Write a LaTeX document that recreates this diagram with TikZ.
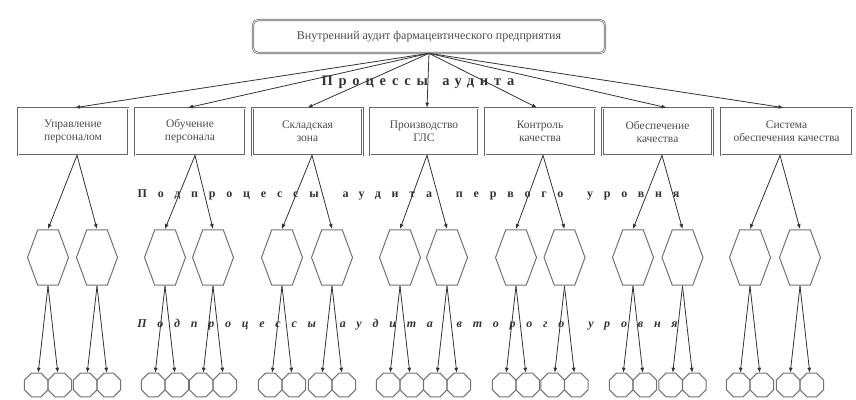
\documentclass[tikz,border=0pt]{standalone}
\usepackage{fontspec}
\setmainfont{Liberation Serif}
\usetikzlibrary{arrows.meta,shapes.geometric}
\newcommand{\wgap}{\hspace{10pt}}
\begin{document}
\begin{tikzpicture}[x=1pt,y=-1pt,
 arr/.style={draw=black!80, line width=0.8pt, -{Latex[length=5pt,width=4pt]}},
 procbox/.style={draw=black!60, double=white, double distance=0.7pt, line width=0.7pt, minimum height=47pt, inner sep=1pt, align=center, font=\fontsize{11.5}{13}\selectfont, text=black!70},
 topbox/.style={procbox, rounded corners=5pt, minimum width=352pt, minimum height=33pt, font=\fontsize{12}{13}\selectfont},
 hexnode/.style={regular polygon, regular polygon sides=6, minimum size=41pt, inner sep=0pt, draw=black!55, line width=1pt, yscale=1.56},
 octnode/.style={regular polygon, regular polygon sides=8, minimum size=25.5pt, inner sep=0pt, draw=black!55, line width=1pt},
 lbl/.style={text=black!80, inner sep=0pt}
]
\useasboundingbox (0,0) rectangle (856,399);
\node[topbox] (top) at (429,36.5) {Внутренний аудит фармацевтического предприятия};
\foreach \i/\x/\w/\t in {1/73/110/{Управление\\персоналом}, 2/190/110/{Обучение\\персонала}, 3/307.5/110/{Складская\\зона}, 4/424/108/{Производство\\ГЛС}, 5/540/110/{Контроль\\качества}, 6/657.5/110/{Обеспечение\\качества}, 7/786.5/131/{Система\\обеспечения качества}}
  \node[procbox, minimum width=\w pt] (b\i) at (\x,131.5) {\t};
\foreach \i/\d in {1/2,2/-2,3/0,4/3,5/-3,6/9,7/-3}
  \draw[arr] (top.south) -- ([xshift=\d pt]b\i.north);
\foreach \i/\a/\b/\d in {1/48/97/4, 2/165/213/5, 3/282/332/4.5, 4/400/447/3, 5/516/564.5/3, 6/633/682.5/4.5, 7/750/800/-6.5} {
  \node[hexnode] (ha\i) at (\a,257.5) {};
  \node[hexnode] (hb\i) at (\b,257.5) {};
  \draw[arr] ([xshift=\d pt]b\i.south) -- (ha\i.north);
  \draw[arr] ([xshift=\d pt]b\i.south) -- (hb\i.north);
  \node[octnode] (oa\i) at (\a-11.75,385) {};
  \node[octnode] (ob\i) at (\a+11.75,385) {};
  \node[octnode] (oc\i) at (\b-11.75,385) {};
  \node[octnode] (od\i) at (\b+11.75,385) {};
  \draw[arr] (ha\i.south) -- ([xshift=2pt]oa\i.north);
  \draw[arr] (ha\i.south) -- ([xshift=-2pt]ob\i.north);
  \draw[arr] (hb\i.south) -- ([xshift=2pt]oc\i.north);
  \draw[arr] (hb\i.south) -- ([xshift=-2pt]od\i.north);
}
\node[lbl, font=\fontsize{14.5}{16}\selectfont\bfseries\addfontfeature{LetterSpace=40}] (l0) at (418,82) {Процессы\hspace{5pt} аудита};
\node[lbl, font=\fontsize{12}{14}\selectfont\bfseries\addfontfeature{LetterSpace=90}] (l1) at (408.5,195) {Подпроцессы\wgap{} аудита\wgap{} первого\wgap{} уровня};
\node[lbl, font=\fontsize{12}{14}\selectfont\bfseries\itshape\addfontfeature{LetterSpace=90}] (l2) at (407.5,325) {Подпроцессы\wgap{} аудита\wgap{} второго\wgap{} уровня};
\end{tikzpicture}
\end{document}
